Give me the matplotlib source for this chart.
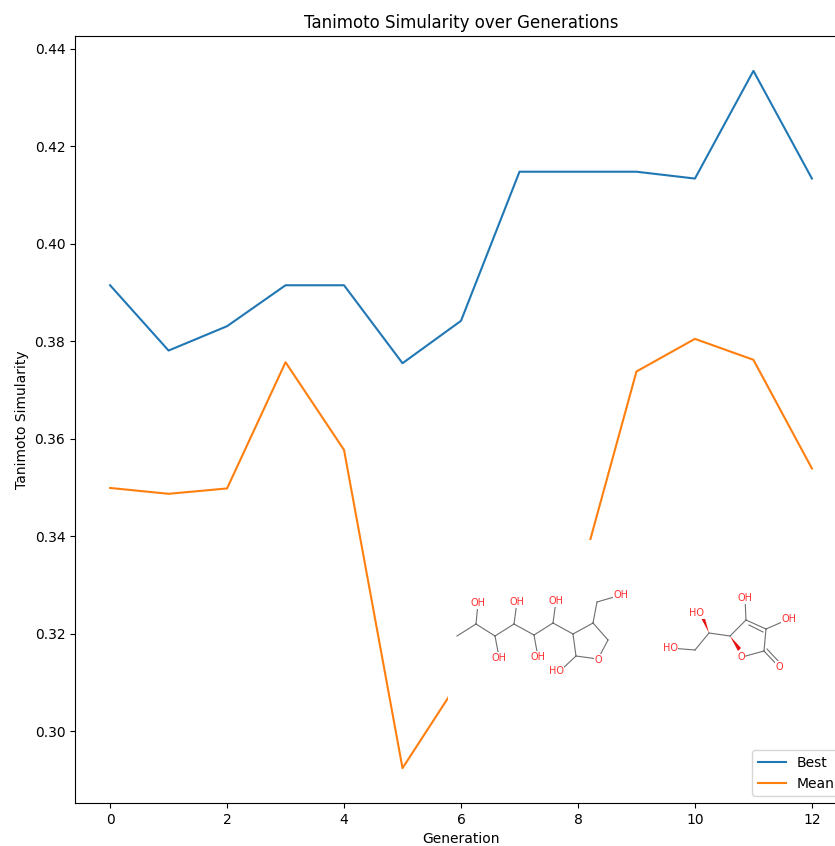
import matplotlib
matplotlib.use('Agg')
import matplotlib.pyplot as plt

generations = list(range(13))
best = [0.3915, 0.3781, 0.3831, 0.3915, 0.3915, 0.3755, 0.3842, 0.4148, 0.4148, 0.4148, 0.4134, 0.4355, 0.4134]
# gen 6-8 of mean sit behind the molecule picture, so 7 is a guess
mean = [0.3499, 0.3487, 0.3498, 0.3757, 0.3577, 0.2924, 0.3109, 0.3200, 0.3301, 0.3738, 0.3805, 0.3762, 0.3539]

# molecule sketches, in picture pixels
mol1_bonds = [((457, 636), (476, 624)), ((476, 624), (495, 636)), ((495, 636), (514, 624)),
              ((514, 624), (534, 635)), ((534, 635), (553, 623)), ((553, 623), (573, 634)),
              ((573, 634), (593, 623)), ((593, 623), (608, 640)), ((608, 640), (598, 659)),
              ((598, 659), (576, 656)), ((576, 656), (573, 634)), ((593, 623), (597, 602)),
              ((597, 602), (621, 595)), ((476, 624), (478, 603)), ((495, 636), (499, 657)),
              ((514, 624), (517, 602)), ((534, 635), (538, 657)), ((553, 623), (556, 601)),
              ((576, 656), (560, 671))]
mol1_labels = [(478, 603, 'OH'), (499, 658, 'OH'), (517, 602, 'OH'), (538, 657, 'OH'), (556, 601, 'OH'),
               (621, 595, 'OH'), (556, 671, 'HO'), (598, 660, 'O')]
mol2_bonds = [((695, 650), (709, 633)), ((709, 633), (730, 636)), ((730, 636), (746, 620)),
              ((746, 620), (766, 629)), ((749, 625), (763, 632)), ((766, 629), (764, 651)),
              ((764, 651), (742, 657)), ((746, 620), (745, 598)), ((766, 629), (789, 619)),
              ((764, 651), (779, 667)), ((767, 649), (781, 664)), ((695, 650), (670, 648))]
mol2_wedges = [((709, 633), (700, 616), (704, 615)), ((730, 636), (738, 651), (741, 648))]
mol2_labels = [(670, 648, 'HO'), (697, 613, 'HO'), (745, 598, 'OH'), (789, 619, 'OH'), (741, 657, 'O'), (779, 667, 'O')]

fig = plt.figure(figsize=(8.35, 8.46), dpi=100)
# the picture cuts the right side of the axes off, so it runs past the figure
ax = fig.add_axes([75 / 835, 43 / 846, 772 / 835, 767 / 846])
ax.plot(generations, best, label='Best')
ax.plot(generations, mean, label='Mean')
ax.set_title('Tanimoto Simularity over Generations')
ax.set_xlabel('Generation')
ax.set_ylabel('Tanimoto Simularity')
ax.legend(loc='lower right')

# white molecule picture on top of the lines, under the legend
img = ax.inset_axes([(448 - 75) / 772, (803 - 725) / 767, 399 / 772, 185 / 767], zorder=4)
img.set_xlim(448, 847)
img.set_ylim(725, 540)
img.set_xticks([])
img.set_yticks([])
for s in img.spines.values():
    s.set_visible(False)

for a, b in mol1_bonds + mol2_bonds:
    img.plot([a[0], b[0]], [a[1], b[1]], color='#555555', lw=0.8, alpha=0.85, zorder=1)
for w in mol2_wedges:
    img.fill([p[0] for p in w], [p[1] for p in w], color='#e81010', lw=0, zorder=1)
for x, y, t in mol1_labels + mol2_labels:
    img.text(x, y, t, color='#ff3030', fontsize=7, ha='center', va='center', zorder=2,
             bbox=dict(facecolor='white', edgecolor='none', pad=0.5))

fig.savefig('out.png', dpi=100)
